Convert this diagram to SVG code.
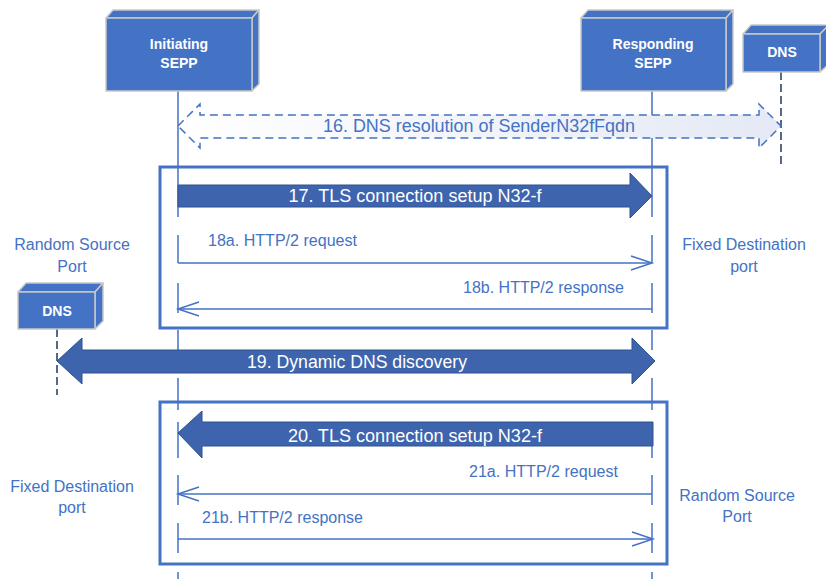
<svg xmlns="http://www.w3.org/2000/svg" width="826" height="579" viewBox="0 0 826 579">
<defs>
<style>
.face{fill:#4472c4;stroke:#c8c8c8;stroke-width:1.5;stroke-linejoin:round}
.nlab{font-family:"Liberation Sans",Arial,sans-serif;font-weight:bold;font-size:14px;fill:#ffffff;text-anchor:middle}
.life{stroke:#4472c4;stroke-width:1.5;fill:none}
.dlife{stroke:#1f3864;stroke-width:1.5;stroke-dasharray:8 4;fill:none}
.msg{stroke:#4472c4;stroke-width:1.5;fill:none}
.head{stroke:#4472c4;stroke-width:1.5;fill:none}
.frame{fill:none;stroke:#4472c4;stroke-width:3}
.blk{fill:#3e64ad;stroke:#2f528f;stroke-width:1}
.btxt{font-family:"Liberation Sans",Arial,sans-serif;font-size:18px;fill:#ffffff;text-anchor:middle}
.ltxt{font-family:"Liberation Sans",Arial,sans-serif;font-size:16px;fill:#4472c4}
.side{font-family:"Liberation Sans",Arial,sans-serif;font-size:16px;fill:#4472c4;text-anchor:middle}
.t16{font-family:"Liberation Sans",Arial,sans-serif;font-size:18px;fill:#4472c4;text-anchor:middle}
</style>
<linearGradient id="g16" x1="0" y1="0" x2="1" y2="0">
<stop offset="0" stop-color="#ffffff"/>
<stop offset="1" stop-color="#e4e9f5"/>
</linearGradient>
</defs>

<g id="lifelines">
<path class="life" d="M178,91V217M178,235V263M178,283V313M178,330V350M178,378V410M178,422V458M178,475V505M178,523V553M178,572V579"/>
<path class="life" d="M652,91V217M652,235V263M652,283V313M652,330V350M652,378V410M652,422V458M652,475V505M652,523V553M652,572V579"/>
<path class="dlife" d="M781,72V165"/>
<path class="dlife" d="M57,329V395"/>
</g>

<g id="node-initiating-sepp">
<polygon class="face" points="106,18 113,10 259,10 252,18"/>
<polygon class="face" points="252,18 259,10 259,84 252,91"/>
<rect class="face" x="106" y="18" width="146" height="73"/>
<text class="nlab" x="179" y="49">Initiating</text>
<text class="nlab" x="179" y="68">SEPP</text>
</g>

<g id="node-responding-sepp">
<polygon class="face" points="581,18 588,10 733,10 726,18"/>
<polygon class="face" points="726,18 733,10 733,84 726,91"/>
<rect class="face" x="581" y="18" width="145" height="73"/>
<text class="nlab" x="653" y="49">Responding</text>
<text class="nlab" x="653" y="68">SEPP</text>
</g>

<g id="node-dns-right">
<polygon class="face" points="743,34 751,25 829,25 820,34"/>
<polygon class="face" points="820,34 829,25 829,64 820,72"/>
<rect class="face" x="743" y="34" width="77" height="38"/>
<text class="nlab" x="782" y="57">DNS</text>
</g>

<g id="node-dns-left">
<polygon class="face" points="18,292 26,283 103,283 95,292"/>
<polygon class="face" points="95,292 103,283 103,321 95,329"/>
<rect class="face" x="18" y="292" width="77" height="37"/>
<text class="nlab" x="57" y="316">DNS</text>
</g>

<g id="frames">
<rect class="frame" x="160" y="167" width="507" height="161"/>
<rect class="frame" x="160" y="402" width="507" height="162"/>
</g>

<g id="connectors">
<polygon points="178,126 200,104 200,115 759,115 759,104 781,126 759,148 759,138 200,138 200,148" fill="url(#g16)" stroke="#4472c4" stroke-width="1.5" stroke-dasharray="8 5"/>
<text class="t16" x="479" y="132" textLength="312" lengthAdjust="spacingAndGlyphs">16. DNS resolution of SenderN32fFqdn</text>

<polygon class="blk" points="178,185 630,185 630,173 652,196 630,218 630,207 178,207"/>
<text class="btxt" x="415" y="202" textLength="253" lengthAdjust="spacingAndGlyphs">17. TLS connection setup N32-f</text>

<path class="msg" d="M178,263H651"/>
<path class="head" d="M631,256L652,263L631,270"/>
<text class="ltxt" x="208" y="246" textLength="149" lengthAdjust="spacingAndGlyphs">18a. HTTP/2 request</text>

<path class="msg" d="M179,309H652"/>
<path class="head" d="M199,302L178,309L199,316"/>
<text class="ltxt" x="463" y="293" textLength="161" lengthAdjust="spacingAndGlyphs">18b. HTTP/2 response</text>

<polygon class="blk" points="57,361 82,338 82,350 632,350 632,338 655,361 632,384 632,373 82,373 82,384"/>
<text class="btxt" x="357" y="368" textLength="220" lengthAdjust="spacingAndGlyphs">19. Dynamic DNS discovery</text>

<polygon class="blk" points="178,433 202,411 202,422 653,422 653,446 202,446 202,458"/>
<text class="btxt" x="415" y="442" textLength="254" lengthAdjust="spacingAndGlyphs">20. TLS connection setup N32-f</text>

<path class="msg" d="M179,494H652"/>
<path class="head" d="M199,487L178,494L199,501"/>
<text class="ltxt" x="469" y="477" textLength="149" lengthAdjust="spacingAndGlyphs">21a. HTTP/2 request</text>

<path class="msg" d="M178,539H652"/>
<path class="head" d="M632,532L653,539L632,546"/>
<text class="ltxt" x="202" y="523" textLength="161" lengthAdjust="spacingAndGlyphs">21b. HTTP/2 response</text>
</g>

<g id="side-labels">
<text class="side" x="72" y="250">Random Source</text>
<text class="side" x="72" y="272">Port</text>
<text class="side" x="744" y="250">Fixed Destination</text>
<text class="side" x="744" y="272">port</text>
<text class="side" x="72" y="492">Fixed Destination</text>
<text class="side" x="72" y="513">port</text>
<text class="side" x="737" y="501">Random Source</text>
<text class="side" x="737" y="522">Port</text>
</g>
</svg>
